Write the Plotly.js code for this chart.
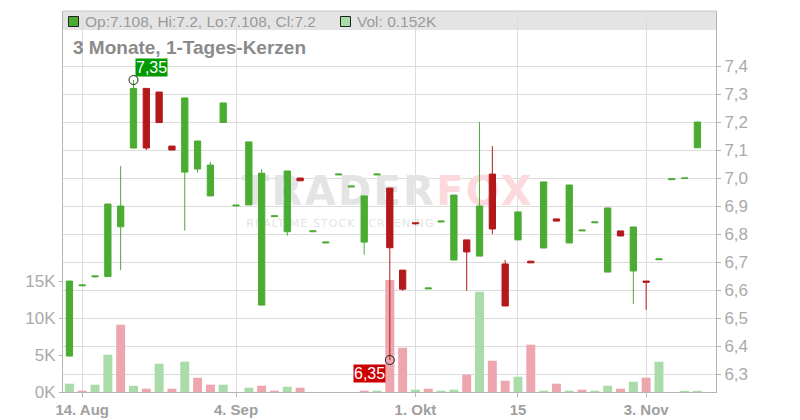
<!DOCTYPE html>
<html>
<head>
<meta charset="utf-8">
<script src="https://cdn.plot.ly/plotly-3.0.1.min.js"></script>
<style>html,body{margin:0;padding:0;background:#fff;}#chart{width:800px;height:420px;}</style>
</head>
<body>
<div id="chart"></div>
<script>
// ---- data (one slot per trading day with a quote) ----
const slots = Array.from({length: 50}, (_, i) => i);
const openP  = [6.364,6.615,6.647,6.648,6.826,7.107,7.320,7.307,7.114,7.021,
                7.032,6.936,7.198,6.900,6.904,6.546,6.862,6.808,7.000,6.808,
                6.768,7.011,6.968,6.771,7.011,6.964,6.671,6.840,6.604,6.843,
                6.707,6.779,6.721,7.014,6.693,6.779,6.703,6.750,6.854,6.768,
                6.811,6.840,6.664,6.811,6.668,6.632,6.708,6.994,6.998,7.108];
const highP  = [6.632,6.618,6.650,6.907,7.043,7.350,7.320,7.307,7.114,7.286,
                7.132,7.057,7.268,6.903,7.129,7.032,6.865,7.025,7.000,6.811,
                6.771,7.014,6.971,6.936,7.014,6.964,6.671,6.840,6.607,6.846,
                6.939,6.779,7.200,7.114,6.707,6.879,6.703,6.986,6.854,6.975,
                6.814,6.843,6.893,6.811,6.825,6.632,6.711,6.997,7.000,7.200];
const lowP   = [6.364,6.615,6.645,6.648,6.671,7.107,7.100,7.198,7.100,6.812,
                7.019,6.936,7.198,6.900,6.904,6.546,6.862,6.794,6.990,6.808,
                6.768,7.011,6.968,6.726,7.011,6.350,6.597,6.833,6.604,6.843,
                6.707,6.597,6.721,6.800,6.543,6.779,6.697,6.750,6.846,6.768,
                6.811,6.840,6.664,6.793,6.550,6.529,6.708,6.994,6.998,7.108];
const closeP = [6.632,6.618,6.650,6.907,6.900,7.320,7.107,7.198,7.100,7.286,
                7.132,7.046,7.268,6.903,7.129,7.017,6.865,7.025,6.990,6.811,
                6.771,7.014,6.971,6.936,7.014,6.751,6.603,6.837,6.607,6.846,
                6.939,6.736,6.900,6.818,6.543,6.879,6.697,6.986,6.846,6.975,
                6.814,6.843,6.893,6.793,6.825,6.628,6.711,6.997,7.000,7.200];
// volume in thousands
const volumeK = [1.13,0.18,0.99,5.06,9.13,0.85,0.45,3.84,0.45,4.11,
                 1.94,0.99,0.99,0,0.58,0.85,0.18,0.72,0.58,0,
                 0,0,0,0.18,0.18,15.2,6.0,0.31,0.45,0.18,
                 0.31,2.35,13.6,4.25,1.53,2.08,6.42,0.18,1.13,0.18,
                 0.31,0.18,0.85,0.45,1.40,1.94,4.11,0,0.15,0.152];
const xTickSlots  = [1, 13, 27, 35, 45];
const xTickLabels = ["14. Aug", "4. Sep", "1. Okt", "15", "3. Nov"];
const priceTicks  = [6.3,6.4,6.5,6.6,6.7,6.8,6.9,7.0,7.1,7.2,7.3,7.4];
const volTicks    = [0, 5, 10, 15];
const volTickText = ["0K", "5K", "10K", "15K"];
const highMarkSlot = 5,  highMarkValue = 7.35;
const lowMarkSlot  = 25, lowMarkValue  = 6.35;
const chartTitle = "3 Monate, 1-Tages-Kerzen";

// ---- styling ----
const GREEN = "#4aac32", RED = "#b3191b";
const VGREEN = "#aadcaa", VRED = "#eea6ae";
const GRID = "#dcdcdc", AXIS = "#b4b4b4", TXT = "#a0a0a0";
const FONT = "Liberation Sans, Arial, sans-serif";

const volColors = volumeK.map((v, i) => (i === 0 || closeP[i] >= closeP[i-1]) ? VGREEN : VRED);

const fmt = v => String(v);
const last = slots.length - 1;
const headerText = "Op:" + fmt(openP[last]) + ", Hi:" + fmt(highP[last]) + ", Lo:" + fmt(lowP[last]) + ", Cl:" + fmt(closeP[last]);
const volText = "Vol: " + fmt(volumeK[last]) + "K";

const traces = [
  { type: "bar", x: slots, y: volumeK, xaxis: "x", yaxis: "y",
    marker: { color: volColors, line: { width: 0 } }, hoverinfo: "skip" },
  { type: "scatter", mode: "text", x: [24.85], y: [26.7], xaxis: "x", yaxis: "y",
    text: ["<b><span style='letter-spacing:2.3px'><span style='color:#e4e4e4'>TRADER</span><span style='color:#fcd9dc'>FOX</span></span></b>"],
    textfont: { family: "DejaVu Sans, sans-serif", size: 40 }, hoverinfo: "skip" },
  { type: "scatter", mode: "text", x: [21.15], y: [22.8], xaxis: "x", yaxis: "y",
    text: ["<span style='letter-spacing:1.1px'>REALTIME STOCK SCREENING</span>"],
    textfont: { family: "DejaVu Sans, sans-serif", size: 11, color: "#e4e4e4" }, hoverinfo: "skip" },
  { type: "candlestick", x: slots, open: openP, high: highP, low: lowP, close: closeP,
    xaxis: "x", yaxis: "y2", whiskerwidth: 0,
    increasing: { line: { color: GREEN, width: 1 }, fillcolor: GREEN },
    decreasing: { line: { color: RED, width: 1 }, fillcolor: RED },
    hoverinfo: "skip" },
  { type: "scatter", mode: "markers", x: [highMarkSlot, lowMarkSlot], y: [highMarkValue, lowMarkValue],
    xaxis: "x", yaxis: "y2",
    marker: { symbol: "circle-open", size: 9, color: "#222", line: { width: 1, color: "#222" } },
    hoverinfo: "skip" }
];

const plotTop = 11, plotBottom = 392, plotLeft = 63, plotRight = 716;
const ph = plotBottom - plotTop, pw = plotRight - plotLeft;
const py = y => (plotBottom - y) / ph;
const px = x => (x - plotLeft) / pw;

const layout = {
  width: 800, height: 420,
  margin: { l: plotLeft, r: 800 - plotRight, t: plotTop, b: 420 - plotBottom, pad: 0 },
  paper_bgcolor: "#fff", plot_bgcolor: "#fff",
  separators: ",.",
  showlegend: false,
  bargap: 0.3,
  font: { family: FONT, color: TXT },
  xaxis: {
    range: [-0.5, 50.45], tickmode: "array", tickvals: xTickSlots, ticktext: xTickLabels,
    showgrid: true, gridcolor: GRID, gridwidth: 1, zeroline: false,
    showline: true, linecolor: AXIS, linewidth: 1,
    ticks: "outside", ticklen: 4, tickcolor: AXIS,
    tickfont: { family: FONT, size: 15, color: TXT, weight: "bold" },
    rangeslider: { visible: false }, fixedrange: true
  },
  yaxis: {
    range: [0, ph / 7.37], tickmode: "array", tickvals: volTicks, ticktext: volTickText,
    showgrid: false, zeroline: false, showline: true, linecolor: AXIS, linewidth: 1,
    ticks: "outside", ticklen: 3, tickcolor: AXIS, side: "left",
    tickfont: { family: FONT, size: 17, color: "#aaaaaa" }, fixedrange: true
  },
  yaxis2: {
    overlaying: "y", side: "right",
    range: [7.4 - (plotBottom - 66) / 280, 7.4 + (66 - plotTop) / 280],
    tickmode: "array", tickvals: priceTicks, tickformat: ".1f",
    showgrid: true, gridcolor: GRID, gridwidth: 1, zeroline: false,
    showline: true, linecolor: AXIS, linewidth: 1,
    ticks: "outside", ticklen: 4, tickcolor: AXIS,
    tickfont: { family: FONT, size: 17, color: "#aaaaaa" }, fixedrange: true
  },
  shapes: [
    { type: "rect", xref: "paper", yref: "paper", x0: 0, x1: 1, y0: py(30), y1: 1,
      fillcolor: "#e4e4e4", line: { width: 0 }, layer: "below" },
    { type: "line", xref: "paper", yref: "paper", x0: 0, x1: 1, y0: 1, y1: 1,
      line: { color: "#c8c8c8", width: 1 }, layer: "below" },
    { type: "rect", xref: "paper", yref: "paper", x0: px(68.5), x1: px(78.5), y0: py(26.5), y1: py(16.5),
      fillcolor: GREEN, line: { color: "#222", width: 1 }, layer: "above" },
    { type: "rect", xref: "paper", yref: "paper", x0: px(340.5), x1: px(350.5), y0: py(26.5), y1: py(16.5),
      fillcolor: VGREEN, line: { color: "#222", width: 1 }, layer: "above" }
  ],
  annotations: [
    { xref: "paper", yref: "paper", x: px(83), y: py(21.3), xanchor: "left", yanchor: "middle",
      text: headerText, showarrow: false, font: { family: FONT, size: 15.5, color: "#9a9a9a" } },
    { xref: "paper", yref: "paper", x: px(355), y: py(21.3), xanchor: "left", yanchor: "middle",
      text: volText, showarrow: false, font: { family: FONT, size: 15.5, color: "#9a9a9a" } },
    { xref: "paper", yref: "paper", x: px(71), y: py(47.5), xanchor: "left", yanchor: "middle",
      text: "<b>" + chartTitle + "</b>", showarrow: false, font: { family: FONT, size: 19, color: "#8a8a8a" } },
    { xref: "x", yref: "y2", x: highMarkSlot, y: highMarkValue, xanchor: "left", yanchor: "bottom",
      xshift: 2, yshift: 3, text: String(highMarkValue).replace(".", ","), showarrow: false,
      bgcolor: "#009900", borderpad: 0, font: { family: FONT, size: 16, color: "#fff" } },
    { xref: "x", yref: "y2", x: lowMarkSlot, y: lowMarkValue, xanchor: "right", yanchor: "top",
      xshift: -4, yshift: -4, text: String(lowMarkValue).replace(".", ","), showarrow: false,
      bgcolor: "#cc0000", borderpad: 0, font: { family: FONT, size: 16, color: "#fff" } }
  ]
};

Plotly.newPlot("chart", traces, layout, { staticPlot: true, displayModeBar: false });
</script>
</body>
</html>
